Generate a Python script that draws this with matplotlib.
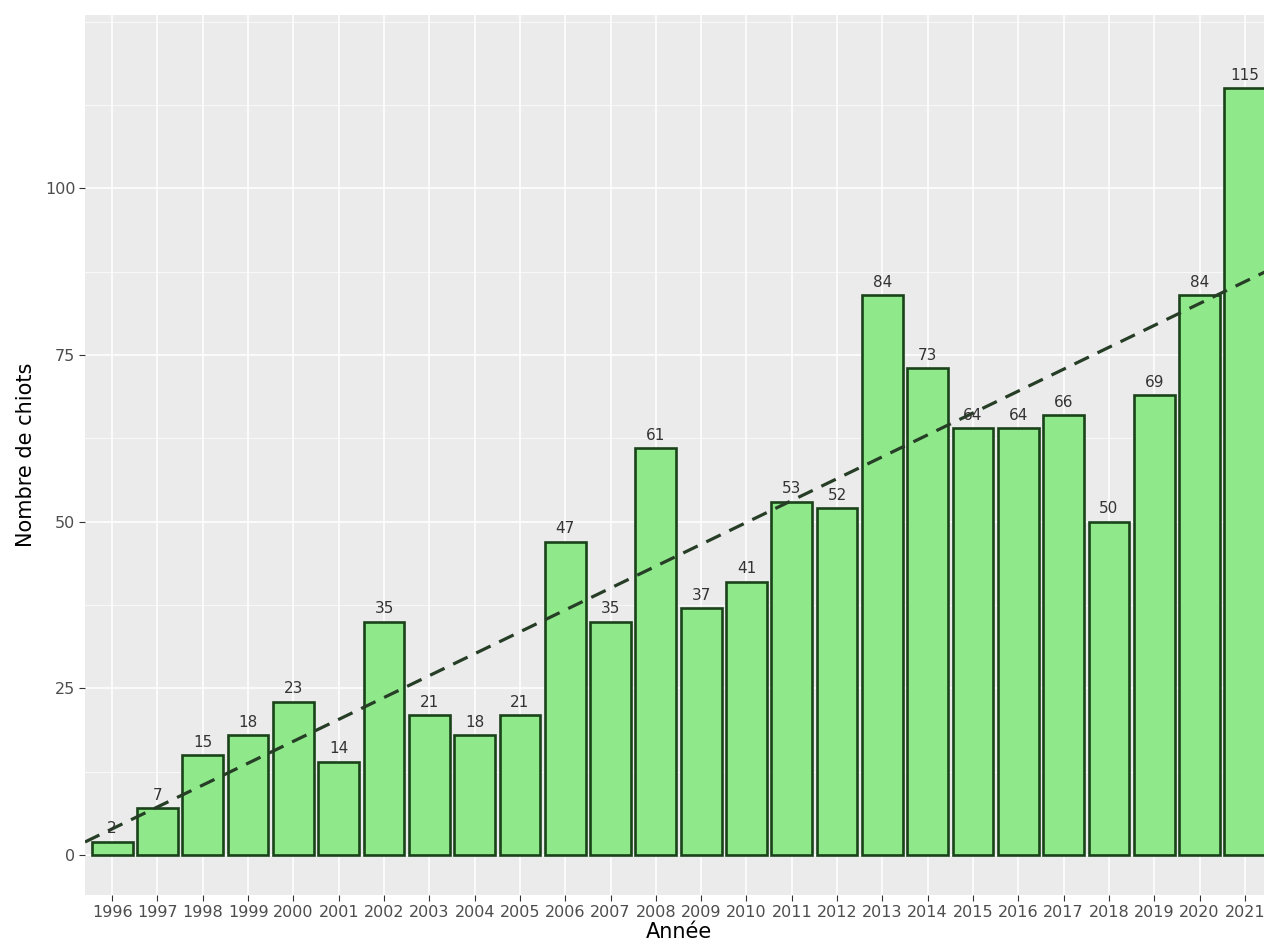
import numpy as np
import matplotlib.pyplot as plt
from matplotlib.ticker import MultipleLocator

years = [str(y) for y in range(1996, 2022)]
chiots = [2, 7, 15, 18, 23, 14, 35, 21, 18, 21, 47, 35, 61, 37, 41, 53, 52,
          84, 73, 64, 64, 66, 50, 69, 84, 115]
y_ticks = [0, 25, 50, 75, 100]

fig = plt.figure(figsize=(12.64, 9.5), dpi=100)
# panel runs past the right edge, as in the (cropped) reference
ax = fig.add_axes([85/1264, 55/950, 1187/1264, 880/950])
ax.set_facecolor('#EBEBEB')
for s in ax.spines.values():
    s.set_visible(False)

x = np.arange(len(years))
ax.bar(x, chiots, width=0.9, color='#8FE88A', edgecolor='#1a431a',
       linewidth=1.9, zorder=2)
for xi, v in zip(x, chiots):
    ax.text(xi, v + 0.8, str(v), ha='center', va='bottom', fontsize=11,
            color='#333333', zorder=4)

# linear trend (lm)
slope, icpt = np.polyfit(x, chiots, 1)
xx = np.array([-0.6, 25.6])
ax.plot(xx, icpt + slope*xx, ls=(0, (5, 3)), color='#263d26', lw=2.3, zorder=3)

ax.set_xlim(-0.6, 25.6)
ax.set_ylim(-6, 126)
ax.set_xticks(x)
ax.set_xticklabels(years)
ax.set_yticks(y_ticks)
ax.yaxis.set_minor_locator(MultipleLocator(12.5))
ax.grid(which='major', color='white', lw=1.1, zorder=0)
ax.grid(which='minor', axis='y', color='white', lw=0.5, zorder=0)
ax.set_axisbelow(True)
ax.tick_params(which='major', length=4, width=0.8, color='#333333',
               labelcolor='#4D4D4D', labelsize=11.5, pad=3)
ax.tick_params(which='minor', length=0)

ax.set_xlabel('Année', fontsize=15, color='black', labelpad=2)
ax.set_ylabel('Nombre de chiots', fontsize=15, color='black', labelpad=6)

fig.savefig('out.png', dpi=100)
